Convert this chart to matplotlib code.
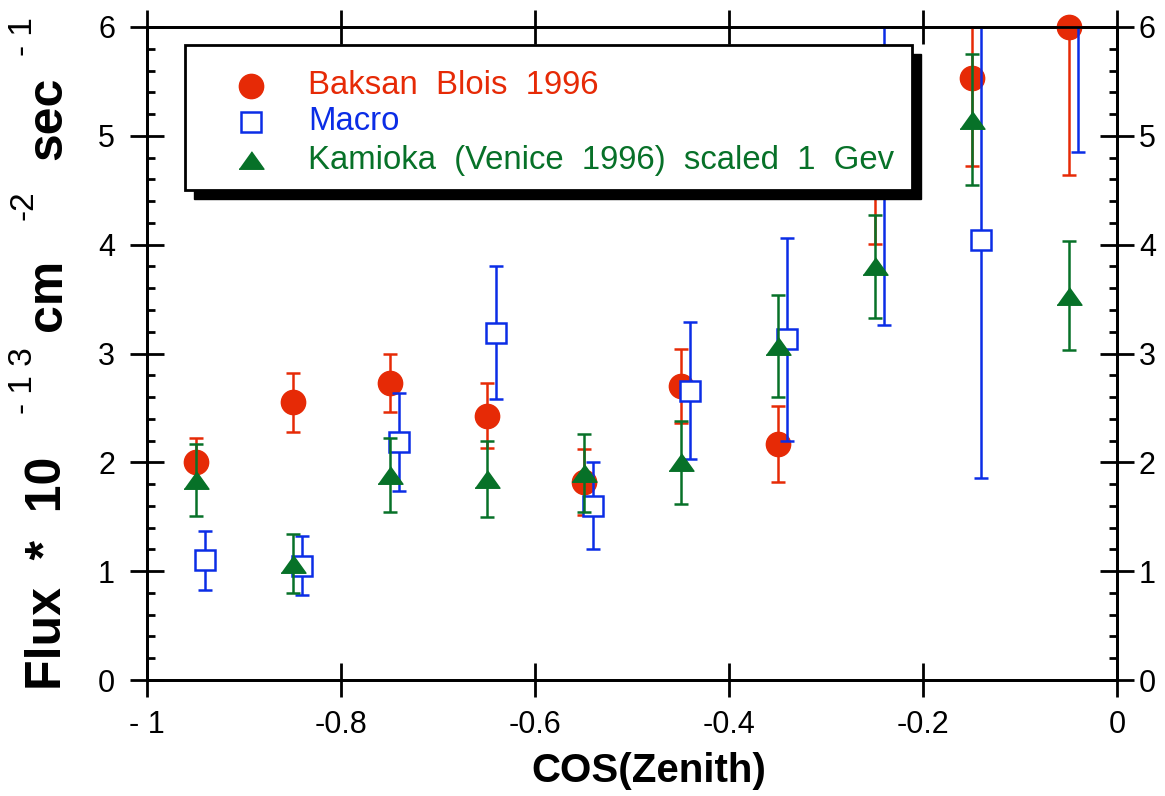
import numpy as np
import matplotlib.pyplot as plt
from matplotlib.patches import Rectangle
from matplotlib.ticker import MultipleLocator

plt.rcParams['font.family'] = ['Liberation Sans', 'DejaVu Sans']

# data
cos_zen = [-0.95, -0.85, -0.75, -0.65, -0.55, -0.45, -0.35, -0.25, -0.15, -0.05]
cos_macro = [-0.94, -0.84, -0.74, -0.64, -0.54, -0.44, -0.34, -0.24, -0.14, -0.04]

baksan = [2.00, 2.55, 2.73, 2.43, 1.82, 2.70, 2.17, 4.75, 5.53, 6.00]
baksan_err = [0.22, 0.27, 0.27, 0.30, 0.30, 0.34, 0.35, 0.74, 0.81, 1.36]

macro = [1.10, 1.05, 2.19, 3.19, 1.60, 2.66, 3.13, 4.63, 4.04, 6.30]
macro_err = [0.27, 0.27, 0.45, 0.61, 0.40, 0.63, 0.93, 1.37, 2.18, 1.45]

kamioka = [1.84, 1.07, 1.88, 1.85, 1.90, 2.00, 3.07, 3.80, 5.15, 3.53]
kamioka_err = [0.33, 0.27, 0.34, 0.35, 0.36, 0.38, 0.47, 0.47, 0.60, 0.50]

labels = ['Baksan  Blois  1996', 'Macro', 'Kamioka  (Venice  1996)  scaled  1  Gev']
xticks = [-1, -0.8, -0.6, -0.4, -0.2, 0]
xticklabels = ['- 1', '-0.8', '-0.6', '-0.4', '-0.2', '0']

red = '#e62a06'
blue = '#0b2de6'
green = '#077128'
tri = [(-1, -0.7), (1, -0.7), (0, 0.7)]

styles = [
    dict(marker='o', ms=17.5, mfc=red, mec=red, color=red),
    dict(marker='s', ms=15, mfc='white', mec=blue, mew=1.8, color=blue),
    dict(marker=tri, ms=18, mfc=green, mec=green, color=green),
]

fig = plt.figure(figsize=(11.65, 7.96), dpi=100)
ax = fig.add_axes([147/1165, 1-680/796, 970/1165, 653/796])

series = [(cos_zen, baksan, baksan_err), (cos_macro, macro, macro_err), (cos_zen, kamioka, kamioka_err)]
for i, (xs, ys, es) in enumerate(series):
    line, caps, bars = ax.errorbar(xs, ys, yerr=es, ls='none', elinewidth=1.8,
                                   capsize=4.7, capthick=1.8, zorder=3+i, **styles[i])
    if i == 0:
        line.set_clip_on(False)

ax.set_xlim(-1, 0)
ax.set_ylim(0, 6)
ax.set_xticks(xticks)
ax.set_xticklabels(xticklabels)
ax.yaxis.set_major_locator(MultipleLocator(1))
ax.yaxis.set_minor_locator(MultipleLocator(0.2))
for s in ax.spines.values():
    s.set_linewidth(2)
ax.tick_params(which='major', direction='inout', length=25, width=2, top=True, right=False)
ax.tick_params(axis='x', labelsize=22, pad=9)
ax.tick_params(axis='y', labelsize=22, pad=10.5)
ax.tick_params(axis='y', which='minor', direction='in', length=6, width=2, right=False)

tw = ax.twinx()
tw.set_ylim(0, 6)
tw.yaxis.set_major_locator(MultipleLocator(1))
tw.yaxis.set_minor_locator(MultipleLocator(0.2))
tw.tick_params(which='major', direction='inout', length=25, width=2, labelsize=22, pad=3.3)
tw.tick_params(which='minor', direction='in', length=6, width=2)
for s in tw.spines.values():
    s.set_linewidth(2)

# legend box with hard shadow
def px(x, y):
    return ((x-147)/970, (680-y)/653)

x0, y0 = px(185, 190)
x1, y1 = px(912, 45)
ax.add_patch(Rectangle((x0+9/970, y0-9/653), x1-x0, y1-y0, transform=ax.transAxes,
                       facecolor='black', edgecolor='black', zorder=10, clip_on=False))
ax.add_patch(Rectangle((x0, y0), x1-x0, y1-y0, transform=ax.transAxes,
                       facecolor='white', edgecolor='black', lw=2, zorder=11, clip_on=False))
rows = [86, 122, 160]
for i in range(3):
    mx, my = px(251, rows[i])
    ax.plot([mx], [my], transform=ax.transAxes, ls='none', zorder=12, clip_on=False, **styles[i])
    tx, ty = px(308, rows[i])
    ax.text(tx, ty, labels[i], transform=ax.transAxes, color=styles[i]['color'],
            fontsize=23.7, va='center', ha='left', zorder=12)

# axis titles
fig.text(649/1165, 1-771/796, 'COS(Zenith)', fontsize=29, fontweight='bold',
         ha='center', va='center')

def ylab(s, ypix, big=True):
    if big:
        fig.text(48/1165, 1-ypix/796, s, fontsize=36, fontweight='bold',
                 rotation=90, ha='center', va='center')
    else:
        fig.text(24/1165, 1-ypix/796, s, fontsize=24, rotation=90,
                 ha='center', va='center')

ylab('Flux  *  10', 573)
ylab('- 1 3', 381, big=False)
ylab('cm', 295)
ylab('-2', 205, big=False)
ylab('sec', 118)
ylab('- 1', 37, big=False)

fig.savefig('out.png', dpi=100)
